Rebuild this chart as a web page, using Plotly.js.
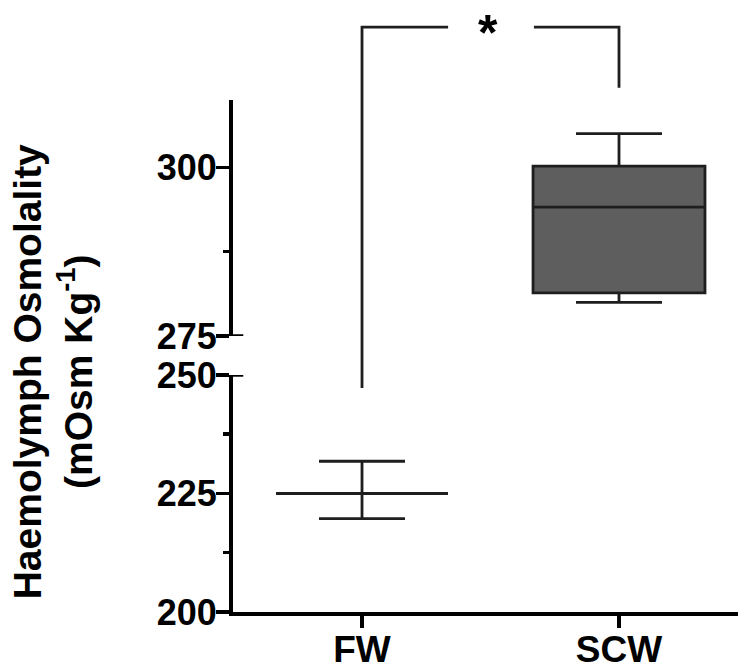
<!DOCTYPE html>
<html>
<head>
<meta charset="utf-8">
<script src="https://cdn.plot.ly/plotly-3.0.1.min.js"></script>
<style>html,body{margin:0;padding:0;background:#fff;}#chart{width:738px;height:670px;}</style>
</head>
<body>
<div id="chart"></div>
<script>
// ---- data ----
const categories = ['FW', 'SCW'];
const catPos = [0, 1];
const lowerWhisker = [219.7, 280.0];
const q1 = [225.0, 281.4];
const median = [225.0, 294.1];
const q3 = [225.0, 300.2];
const upperWhisker = [231.8, 305.0];
const lowerTicks = [200, 225, 250];
const upperTicks = [275, 300];
const lowerMinor = [212.5, 237.5];
const upperMinor = [287.5];
const sigLabel = '*';
// bracket levels (in upper-axis units)
const bracketTop = 320.8;
const bracketLegFW = 267.3;
const bracketLegSCW = 311.8;

// ---- style ----
const lineCol = '#1e1e1e';
const xRange = [-0.502, 1.463];
const boxWidth = 0.669;
const bold = {family: 'Arial, "Liberation Sans", sans-serif', color: '#000', weight: 'bold'};

const traces = [
  {
    type: 'box', orientation: 'v', x: [catPos[0]], xaxis: 'x', yaxis: 'y',
    lowerfence: [lowerWhisker[0]], q1: [q1[0]], median: [median[0]], q3: [q3[0]], upperfence: [upperWhisker[0]],
    width: boxWidth, whiskerwidth: 0.5, boxpoints: false,
    fillcolor: 'rgba(0,0,0,0)', line: {color: lineCol, width: 2.8},
    hoverinfo: 'skip', showlegend: false
  },
  {
    type: 'box', orientation: 'v', x: [catPos[1]], xaxis: 'x', yaxis: 'y2',
    lowerfence: [lowerWhisker[1]], q1: [q1[1]], median: [median[1]], q3: [q3[1]], upperfence: [upperWhisker[1]],
    width: boxWidth, whiskerwidth: 0.5, boxpoints: false,
    fillcolor: '#5e5e5e', line: {color: lineCol, width: 2.8},
    hoverinfo: 'skip', showlegend: false
  },
  {
    type: 'scatter', mode: 'lines', xaxis: 'x', yaxis: 'y3',
    x: [catPos[0], catPos[0], catPos[0] + 0.335, null, catPos[1] - 0.331, catPos[1], catPos[1]],
    y: [bracketLegFW, bracketTop, bracketTop, null, bracketTop, bracketTop, bracketLegSCW],
    line: {color: lineCol, width: 2.8}, connectgaps: false,
    hoverinfo: 'skip', showlegend: false
  }
];

const yCommon = {
  anchor: 'x', showline: true, linecolor: '#000', linewidth: 4,
  ticks: 'outside', ticklen: 13, tickwidth: 3.5, tickcolor: '#000',
  showgrid: false, zeroline: false, tickfont: Object.assign({size: 36}, bold),
  ticklabelstandoff: -8, fixedrange: true
};

const layout = {
  width: 738, height: 670,
  margin: {l: 233, r: 0, t: 0, b: 58},
  paper_bgcolor: '#fff', plot_bgcolor: 'rgba(0,0,0,0)',
  showlegend: false,
  xaxis: {
    domain: [0, 1], range: xRange, anchor: 'y',
    tickvals: catPos, ticktext: categories,
    showline: true, linecolor: '#000', linewidth: 4,
    ticks: 'outside', ticklen: 12, tickwidth: 3.5, tickcolor: '#000',
    showgrid: false, zeroline: false, ticklabelstandoff: -10,
    tickfont: Object.assign({size: 37}, bold), fixedrange: true
  },
  yaxis: Object.assign({}, yCommon, {
    domain: [0, 0.3873], range: [200, 250], tickvals: lowerTicks,
    minor: {tickvals: lowerMinor, ticks: 'outside', ticklen: 6, tickwidth: 3.5, tickcolor: '#000', showgrid: false}
  }),
  yaxis2: Object.assign({}, yCommon, {
    domain: [0.45098, 0.8366], range: [275, 310], tickvals: upperTicks,
    minor: {tickvals: upperMinor, ticks: 'outside', ticklen: 6, tickwidth: 3.5, tickcolor: '#000', showgrid: false}
  }),
  yaxis3: {
    domain: [0, 1], range: [234.07, 324.83], anchor: 'x', visible: false, fixedrange: true
  },
  shapes: [
    {type: 'line', xref: 'x', yref: 'y', x0: xRange[0], x1: xRange[0] + 0.04, y0: lowerTicks[2], y1: lowerTicks[2], line: {color: '#000', width: 3.5}},
    {type: 'line', xref: 'x', yref: 'y2', x0: xRange[0], x1: xRange[0] + 0.04, y0: upperTicks[0], y1: upperTicks[0], line: {color: '#000', width: 3.5}}
  ],
  annotations: [
    {
      xref: 'x', yref: 'y3', x: 0.49, y: bracketTop, yshift: -6,
      text: sigLabel, showarrow: false, font: Object.assign({size: 50}, bold),
      xanchor: 'center', yanchor: 'middle'
    },
    {
      xref: 'paper', yref: 'paper', x: -0.356, y: 0.392,
      text: 'Haemolymph Osmolality<br>(mOsm Kg<sup>-1</sup>)',
      textangle: -90, showarrow: false, font: Object.assign({size: 39}, bold),
      xanchor: 'center', yanchor: 'middle'
    }
  ]
};

Plotly.newPlot('chart', traces, layout, {displayModeBar: false, staticPlot: true});
</script>
</body>
</html>
